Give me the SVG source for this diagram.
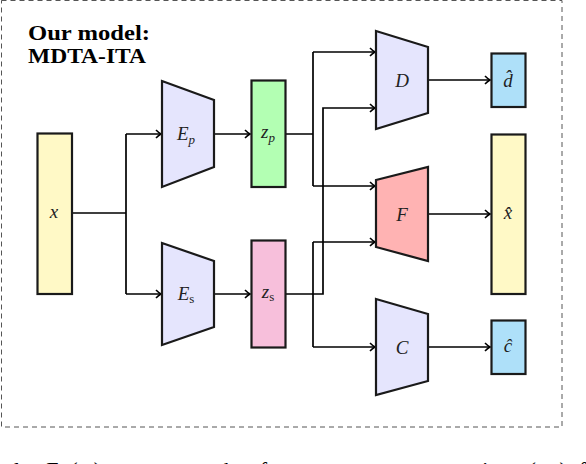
<svg xmlns="http://www.w3.org/2000/svg" width="586" height="464" viewBox="0 0 586 464">
<defs>
<marker id="arr" markerWidth="10" markerHeight="10" refX="7" refY="5" orient="auto" markerUnits="userSpaceOnUse">
<path d="M2,1 Q5,4 7,5 Q5,6 2,9" fill="none" stroke="#000" stroke-width="1.6"/>
</marker>
</defs>
<style>
.node{stroke:#1a1a1a;stroke-width:2.2;}
.conn{fill:none;stroke:#000;stroke-width:1.7;}
.lbl{font-family:"Liberation Serif",serif;font-style:italic;font-size:19px;fill:#222;text-anchor:middle;}
.sub{font-size:13px;}
.title{font-family:"Liberation Serif",serif;font-weight:bold;font-size:20px;fill:#000;}
.cap{font-family:"Liberation Serif",serif;font-size:22px;fill:#000;}
</style>
<rect x="1.5" y="0.5" width="560.5" height="426.5" fill="none" stroke="#555" stroke-width="1" stroke-dasharray="5,4"/>
<g id="title">
<text class="title" x="28" y="40" textLength="122" lengthAdjust="spacingAndGlyphs">Our model:</text>
<text class="title" x="28" y="63" textLength="118" lengthAdjust="spacingAndGlyphs">MDTA-ITA</text>
</g>
<g id="connectors">
<path class="conn" d="M72,213 H126 M126,134 V294"/>
<path class="conn" d="M126,134 H161" marker-end="url(#arr)"/>
<path class="conn" d="M126,294 H161" marker-end="url(#arr)"/>
<path class="conn" d="M214,134 H250" marker-end="url(#arr)"/>
<path class="conn" d="M214,294 H250" marker-end="url(#arr)"/>
<path class="conn" d="M286,134 H313 M313,52 V186"/>
<path class="conn" d="M313,52 H375" marker-end="url(#arr)"/>
<path class="conn" d="M313,186 H375" marker-end="url(#arr)"/>
<path class="conn" d="M286,294 H323 V108 H375" marker-end="url(#arr)"/>
<path class="conn" d="M313,242 V347"/>
<path class="conn" d="M313,242 H375" marker-end="url(#arr)"/>
<path class="conn" d="M313,347 H375" marker-end="url(#arr)"/>
<path class="conn" d="M428,80 H490" marker-end="url(#arr)"/>
<path class="conn" d="M428,214 H490" marker-end="url(#arr)"/>
<path class="conn" d="M428,347 H490" marker-end="url(#arr)"/>
</g>
<g id="x">
<rect class="node" x="37.5" y="133.5" width="34.5" height="160.5" fill="#fff9c6"/>
<text class="lbl" x="54" y="218">x</text>
</g>
<g id="Ep">
<polygon class="node" points="162,81 214,100 214,167 162,187" fill="#e5e5fd"/>
<text class="lbl" x="186" y="140">E<tspan class="sub" dy="4">p</tspan></text>
</g>
<g id="Es">
<polygon class="node" points="162,243 214,261 214,327 162,345" fill="#e5e5fd"/>
<text class="lbl" x="186" y="300">E<tspan class="sub" dy="3" font-style="normal">s</tspan></text>
</g>
<g id="zp">
<rect class="node" x="251.5" y="80.5" width="34" height="106.5" fill="#b3ffb3"/>
<text class="lbl" x="268" y="138">z<tspan class="sub" dy="4">p</tspan></text>
</g>
<g id="zs">
<rect class="node" x="251.5" y="240.5" width="34" height="107" fill="#f7bfdb"/>
<text class="lbl" x="268" y="298">z<tspan class="sub" dy="3" font-style="normal">s</tspan></text>
</g>
<g id="D">
<polygon class="node" points="376,31 428,47 428,113 376,129" fill="#e5e5fd"/>
<text class="lbl" x="402" y="87">D</text>
</g>
<g id="F">
<polygon class="node" points="376,180 428,167 428,261 376,247" fill="#ffb3b3"/>
<text class="lbl" x="402" y="221">F</text>
</g>
<g id="C">
<polygon class="node" points="376,299 428,314 428,381 376,395" fill="#e5e5fd"/>
<text class="lbl" x="402" y="354">C</text>
</g>
<g id="dhat">
<rect class="node" x="491.5" y="53.5" width="34" height="53.5" fill="#aee0f9"/>
<text class="lbl" x="508" y="87">d&#770;</text>
</g>
<g id="xhat">
<rect class="node" x="491.5" y="134.5" width="34" height="159.5" fill="#fff9c6"/>
<text class="lbl" x="508" y="219">x&#770;</text>
</g>
<g id="chat">
<rect class="node" x="491.5" y="320.5" width="34" height="53.5" fill="#aee0f9"/>
<text class="lbl" x="508" y="352">c&#770;</text>
</g>
<text class="cap" x="14" y="477" textLength="572" lengthAdjust="spacing">la  <tspan font-style="italic">E</tspan><tspan font-size="15" font-style="italic" dy="4">s</tspan><tspan dy="-4">(</tspan><tspan font-style="italic">x</tspan>)  extracts  the  feature  representation  (<tspan font-style="italic">z</tspan><tspan font-size="15" font-style="italic" dy="4">s</tspan><tspan dy="-4">)  f</tspan></text>
</svg>
